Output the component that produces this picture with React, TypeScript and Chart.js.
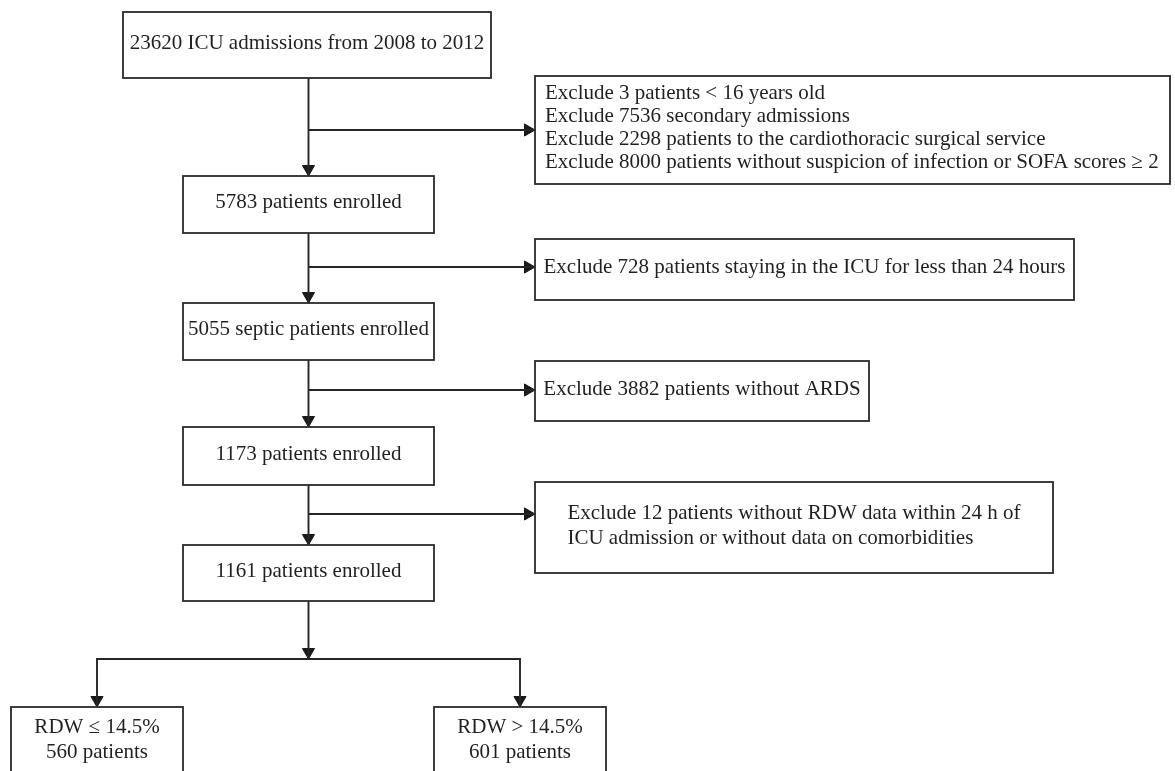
import { useEffect, useRef } from "react";
import { Chart, registerables } from "chart.js";

Chart.register(...registerables);

// ---- content ----
const mainLabels: string[][] = [
  ["23620 ICU admissions from 2008 to 2012"],
  ["5783 patients enrolled"],
  ["5055 septic patients enrolled"],
  ["1173 patients enrolled"],
  ["1161 patients enrolled"],
];

const exclusionLabels: string[][] = [
  [
    "Exclude 3 patients < 16 years old",
    "Exclude 7536 secondary admissions",
    "Exclude 2298 patients to the cardiothoracic surgical service",
    "Exclude 8000 patients without suspicion of infection or SOFA scores ≥ 2",
  ],
  ["Exclude 728 patients staying in the ICU for less than 24 hours"],
  ["Exclude 3882 patients without ARDS"],
  [
    "Exclude 12 patients without RDW data within 24 h of",
    "ICU admission or without data on comorbidities",
  ],
];

const groupLabels: string[][] = [
  ["RDW ≤ 14.5%", "560 patients"],
  ["RDW > 14.5%", "601 patients"],
];

// ---- layout (in chart units: left, top, right, bottom) ----
const mainBoxes: number[][] = [
  [123, 12, 491, 78],
  [183, 176, 434, 233],
  [183, 303, 434, 360],
  [183, 427, 434, 485],
  [183, 545, 434, 601],
];
const exclusionBoxes: number[][] = [
  [535, 76, 1170, 184],
  [535, 239, 1074, 300],
  [535, 361, 869, 421],
  [535, 482, 1053, 573],
];
const exclusionAlign = ["left", "center", "center", "block"];
const exclusionLineHeight = [23, 25, 25, 25];
const branchY = [130, 267, 390, 514];
const groupBoxes: number[][] = [
  [11, 707, 183, 776],
  [434, 707, 606, 776],
];
const splitY = 659;

const INK = "#231f20";
const LINE = "#262626";
const FONT = '21px "Liberation Serif", "Times New Roman", serif';
const ARROW_R = 7;

type Pt = { x: number; y: number };

function buildConnectors(): Pt[][] {
  const paths: Pt[][] = [];
  const cx = (b: number[]) => (b[0] + b[2]) / 2;
  const stemX = cx(mainBoxes[1]);
  for (let i = 0; i < mainBoxes.length - 1; i++) {
    paths.push([
      { x: stemX, y: mainBoxes[i][3] },
      { x: stemX, y: mainBoxes[i + 1][1] },
    ]);
    paths.push([
      { x: stemX, y: branchY[i] },
      { x: exclusionBoxes[i][0], y: branchY[i] },
    ]);
  }
  const last = mainBoxes[mainBoxes.length - 1];
  paths.push([
    { x: stemX, y: last[3] },
    { x: stemX, y: splitY },
  ]);
  paths.push([
    { x: cx(groupBoxes[0]), y: groupBoxes[0][1] },
    { x: cx(groupBoxes[0]), y: splitY },
    { x: cx(groupBoxes[1]), y: splitY },
    { x: cx(groupBoxes[1]), y: groupBoxes[1][1] },
  ]);
  return paths;
}

function buildArrows(): { pts: Pt[]; rot: number[] } {
  const pts: Pt[] = [];
  const rot: number[] = [];
  const cx = (b: number[]) => (b[0] + b[2]) / 2;
  const stemX = cx(mainBoxes[1]);
  for (let i = 1; i < mainBoxes.length; i++) {
    pts.push({ x: stemX, y: mainBoxes[i][1] - ARROW_R });
    rot.push(180);
  }
  pts.push({ x: stemX, y: splitY - ARROW_R });
  rot.push(180);
  for (const b of groupBoxes) {
    pts.push({ x: cx(b), y: b[1] - ARROW_R });
    rot.push(180);
  }
  for (let i = 0; i < exclusionBoxes.length; i++) {
    pts.push({ x: exclusionBoxes[i][0] - ARROW_R, y: branchY[i] });
    rot.push(90);
  }
  return { pts, rot };
}

const boxPlugin = {
  id: "flowBoxes",
  afterDatasetsDraw(chart: any) {
    const { ctx, scales } = chart;
    const X = (v: number) => scales.x.getPixelForValue(v);
    const Y = (v: number) => scales.y.getPixelForValue(v);
    ctx.save();
    ctx.font = FONT;
    ctx.fillStyle = INK;
    ctx.strokeStyle = "#2a2a2a";
    ctx.lineWidth = 1.8;
    ctx.textBaseline = "middle";

    const drawBox = (b: number[], lines: string[], align: string, lh: number) => {
      const l = X(b[0]), t = Y(b[1]), r = X(b[2]), btm = Y(b[3]);
      ctx.fillStyle = "#ffffff";
      ctx.fillRect(l, t, r - l, btm - t);
      ctx.strokeRect(l, t, r - l, btm - t);
      ctx.fillStyle = INK;
      const midY = (t + btm) / 2 - 2;
      const startY = midY - ((lines.length - 1) * lh) / 2;
      const maxW = Math.max(...lines.map((s) => ctx.measureText(s).width));
      lines.forEach((s, i) => {
        const y = startY + i * lh;
        if (align === "left") {
          ctx.textAlign = "left";
          ctx.fillText(s, l + 10, y);
        } else if (align === "block") {
          ctx.textAlign = "left";
          ctx.fillText(s, (l + r) / 2 - maxW / 2, y);
        } else {
          ctx.textAlign = "center";
          ctx.fillText(s, (l + r) / 2, y);
        }
      });
    };

    mainBoxes.forEach((b, i) => drawBox(b, mainLabels[i], "center", 25));
    exclusionBoxes.forEach((b, i) =>
      drawBox(b, exclusionLabels[i], exclusionAlign[i], exclusionLineHeight[i])
    );
    groupBoxes.forEach((b, i) => drawBox(b, groupLabels[i], "center", 25));
    ctx.restore();
  },
};

export default function App() {
  const ref = useRef<HTMLCanvasElement | null>(null);

  useEffect(() => {
    if (!ref.current) return;
    const connectors = buildConnectors();
    const arrows = buildArrows();
    const datasets: any[] = connectors.map((p) => ({
      type: "line",
      data: p,
      borderColor: LINE,
      borderWidth: 1.9,
      pointRadius: 0,
      fill: false,
      tension: 0,
      clip: false,
    }));
    datasets.push({
      type: "scatter",
      data: arrows.pts,
      pointStyle: "triangle",
      pointRadius: ARROW_R,
      rotation: arrows.rot,
      backgroundColor: "#1a1a1a",
      borderColor: "#1a1a1a",
      borderWidth: 1,
      clip: false,
    });

    const chart = new Chart(ref.current, {
      type: "scatter",
      data: { datasets },
      options: {
        animation: false,
        responsive: true,
        maintainAspectRatio: false,
        events: [],
        layout: { padding: 0, autoPadding: false },
        plugins: { legend: { display: false }, tooltip: { enabled: false } },
        scales: {
          x: { type: "linear", min: 0, max: 1175, display: false },
          y: { type: "linear", min: 0, max: 771, reverse: true, display: false },
        },
      },
      plugins: [boxPlugin],
    });
    return () => chart.destroy();
  }, []);

  return (
    <div
      style={{
        position: "absolute",
        left: 0,
        top: 0,
        width: 1175,
        height: 771,
        background: "#ffffff",
      }}
    >
      <canvas ref={ref} />
    </div>
  );
}
